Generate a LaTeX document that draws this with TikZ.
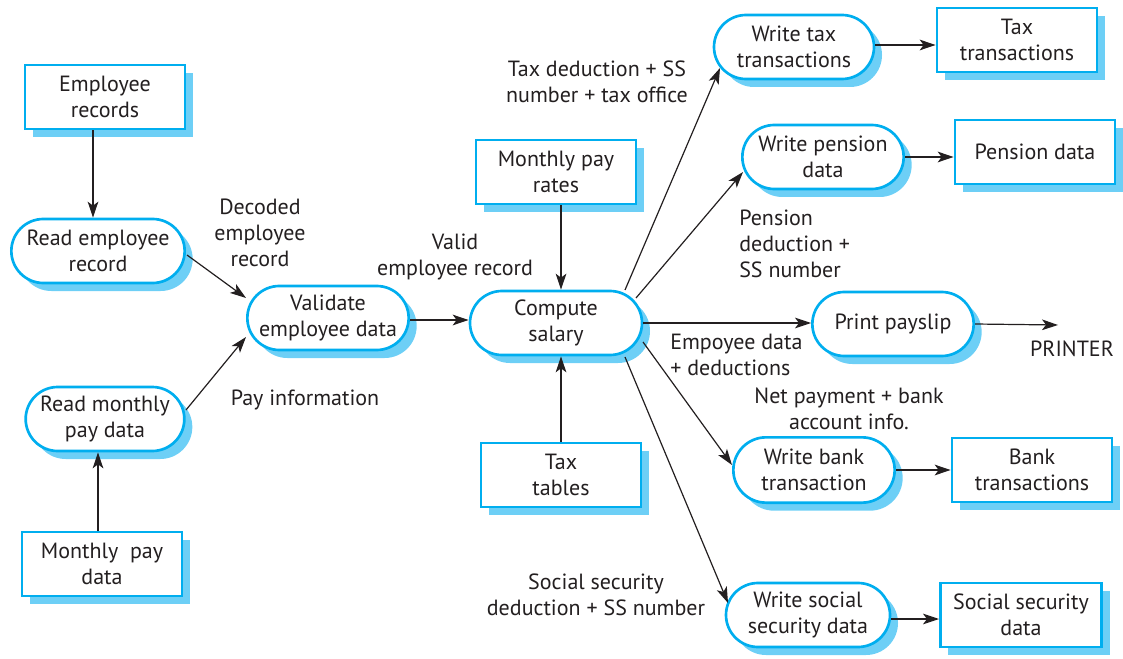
\documentclass[tikz,border=0pt]{standalone}
\usepackage{fontspec}
\setmainfont{PT Sans}
\usetikzlibrary{arrows.meta,shapes.misc,shadows}
\definecolor{bordc}{HTML}{00AEEF}
\definecolor{shadc}{HTML}{6DCFF6}
\definecolor{txtc}{HTML}{231F20}
\tikzset{
  base/.style={draw=bordc, line width=2pt, fill=white, text=txtc, align=center, inner sep=0pt,
    font=\fontsize{16.5pt}{19.5pt}\selectfont,
    drop shadow={shadow xshift=6pt, shadow yshift=-6pt, fill=shadc, opacity=1}},
  store/.style={base, rectangle, minimum width=120pt, minimum height=48pt},
  proc/.style={base, rounded rectangle, minimum width=121pt, minimum height=48pt},
  lbl/.style={text=txtc, align=center, inner sep=0pt, font=\fontsize{16.5pt}{19.5pt}\selectfont},
  arr/.style={-{Stealth[length=12pt,width=8pt,inset=3pt]}, line width=0.9pt, draw=txtc},
}
\begin{document}
\begin{tikzpicture}[x=0.75pt,y=-0.75pt]
\useasboundingbox (0,0) rectangle (1123,659);
% data stores
\node[store] (er) at (105,97) {Employee\\records};
\node[store] (mpd) at (102,564) {Monthly~ pay\\data};
\node[store] (mpr) at (556,172) {Monthly pay\\rates};
\node[store] (tt) at (561,475) {Tax\\tables};
\node[store] (ttr) at (1017,40) {Tax\\transactions};
\node[store] (pd) at (1035,152) {Pension data};
\node[store] (bt) at (1032,470) {Bank\\transactions};
\node[store, minimum width=121pt] (ssd) at (1021,615) {Social security\\data};
% processes
\node[proc, minimum width=130pt] (rer) at (98,251) {Read employee\\record};
\node[proc] (ved) at (328,318) {Validate\\employee data};
\node[proc, minimum width=119pt] (rmp) at (105,419) {Read monthly\\pay data};
\node[proc, minimum width=129pt] (cs) at (556,323) {Compute\\salary};
\node[proc, minimum width=120pt] (wt) at (794,47) {Write tax\\transactions};
\node[proc] (wp) at (823,157) {Write pension\\data};
\node[proc] (pp) at (893,324) {Print payslip};
\node[proc, minimum height=49pt] (wb) at (814,470) {Write bank\\transaction};
\node[proc, minimum width=123pt] (ws) at (808,615) {Write social\\security data};
% labels
\node[lbl] (ldec) at (260,233) {Decoded\\employee\\record};
\node[lbl] (lvalid) at (455,257) {Valid\\employee record};
\node[lbl] (lpay) at (305,400) {Pay information};
\node[lbl] (ltax) at (597,82) {Tax deduction + SS\\number + tax office};
\node[lbl, align=left, anchor=west] (lpen) at (739,244) {Pension\\deduction +\\SS number};
\node[lbl, align=left, anchor=west] (lemp) at (670,355) {Empoyee data\\+ deductions};
\node[lbl] (lnet) at (849,409) {Net payment + bank\\account info.};
\node[lbl] (lsoc) at (596,595) {Social security\\deduction + SS number};
\node[lbl] (lprinter) at (1072,349) {PRINTER};
\coordinate (printer) at (1058,325);
% connectors
\draw[arr] ([xshift=-9pt]er.south) -- ([xshift=-9pt]er.south |- rer.north);
\draw[arr] ([xshift=-3pt]mpd.north) -- ([xshift=-3pt]mpd.north |- rmp.south);
\draw[arr] ([shift={(89,4)}]rer.center) -- ([shift={(-82,-20)}]ved.center);
\draw[arr] ([shift={(81,-9)}]rmp.center) -- ([shift={(-82,19)}]ved.center);
\draw[arr] ([yshift=-1.5pt]ved.east) -- ([yshift=-1.5pt]ved.east -| cs.west);
\draw[arr] ([xshift=3.75pt]mpr.south) -- ([xshift=3.75pt]mpr.south |- cs.north);
\draw[arr] (tt.north) -- (tt.north |- cs.south);
\draw[arr] ([shift={(69,-33)}]cs.center) -- ([shift={(-74,21)}]wt.center);
\draw[arr] ([shift={(80,-25)}]cs.center) -- ([shift={(-80,15)}]wp.center);
\draw[arr] (cs.east) -- (cs.east -| pp.west);
\draw[arr] ([shift={(87,19)}]cs.center) -- ([shift={(-82,-5)}]wb.center);
\draw[arr] ([shift={(69,34)}]cs.center) -- ([shift={(-80,-12)}]ws.center);
\draw[arr] ([yshift=1.5pt]wt.east) -- ([yshift=1.5pt]wt.east -| ttr.west);
\draw[arr] (wp.east) -- (wp.east -| pd.west);
\draw[arr] (pp.east) -- (printer);
\draw[arr] (wb.east) -- (wb.east -| bt.west);
\draw[arr] ([yshift=-3pt]ws.east) -- ([yshift=-3pt]ws.east -| ssd.west);
\end{tikzpicture}
\end{document}
